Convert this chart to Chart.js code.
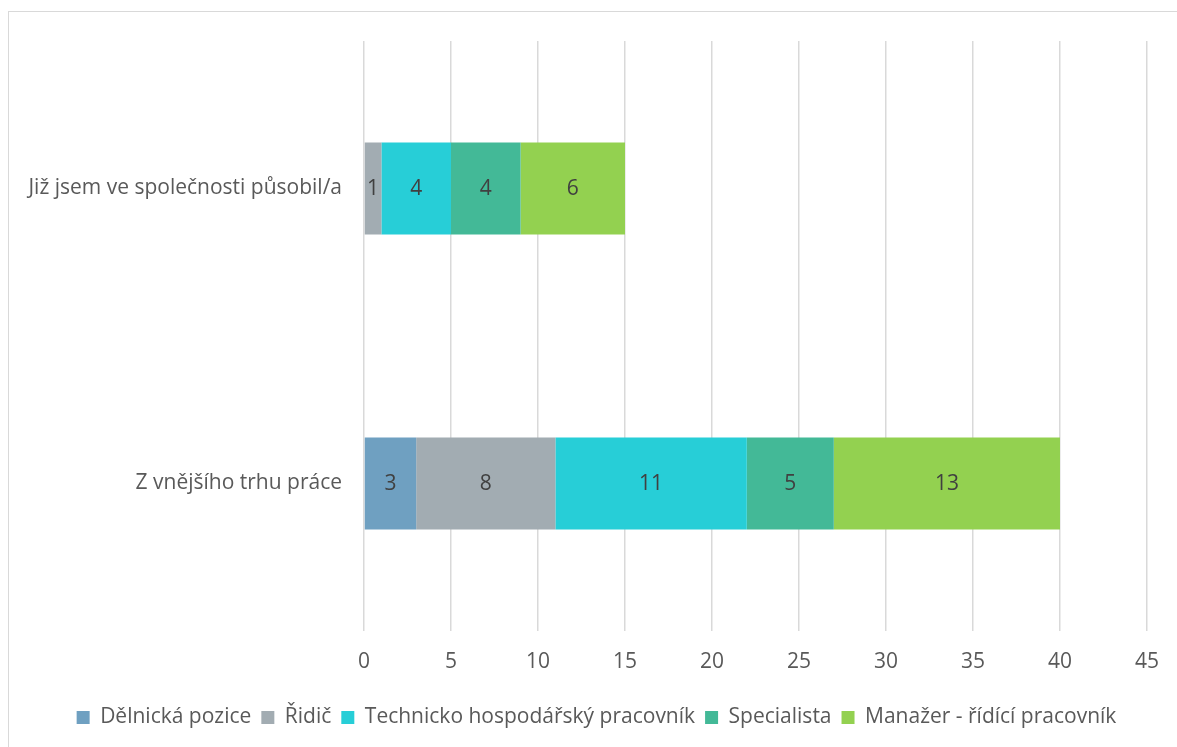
<!DOCTYPE html>
<html>
<head>
<meta charset="utf-8">
<script src="https://cdn.jsdelivr.net/npm/chart.js@4/dist/chart.umd.min.js"></script>
<style>
  html, body { margin: 0; padding: 0; background: #fff; overflow: hidden; }
  #frame { position: absolute; left: 8px; top: 11px; width: 1200px; height: 800px;
           border: 1.5px solid #d9d9d9; }
  #wrap { position: absolute; left: 0; top: 0; width: 1177px; height: 747px; }
</style>
</head>
<body>
<div id="frame"></div>
<div id="wrap"><canvas id="workChart"></canvas></div>
<script>
var categories = ["Již jsem ve společnosti působil/a", "Z vnějšího trhu práce"];
var seriesNames = ["Dělnická pozice", "Řidič", "Technicko hospodářský pracovník", "Specialista", "Manažer - řídící pracovník"];
var delnicka = [0, 3];
var ridic = [1, 8];
var thp = [4, 11];
var specialista = [4, 5];
var manazer = [6, 13];
var xTicks = [0, 5, 10, 15, 20, 25, 30, 35, 40, 45];

var colors = ["#6fa0c1", "#a2acb2", "#27ced7", "#43b997", "#93d150"];
var seriesValues = [delnicka, ridic, thp, specialista, manazer];

// draws the numbers in the middle of each segment
var valueLabels = {
    id: 'valueLabels',
    afterDatasetsDraw: function(chart) {
        var ctx = chart.ctx;
        ctx.save();
        ctx.font = '21px "Open Sans"';
        ctx.fillStyle = '#404040';
        ctx.textAlign = 'center';
        ctx.textBaseline = 'middle';
        chart.data.datasets.forEach(function(ds, i) {
            chart.getDatasetMeta(i).data.forEach(function(bar, j) {
                var v = ds.data[j];
                if (!v) return;
                var mid = (bar.x + bar.base) / 2;
                ctx.fillText(String(v), mid, bar.y + 1);
            });
        });
        ctx.restore();
    }
};

// legend sits a bit right of the canvas centre
var legendShift = {
    id: 'legendShift',
    afterLayout: function(chart) {
        chart.legend.left = 45;
    }
};

var ctx = document.getElementById('workChart');
var workChart = new Chart(ctx, {
    type: 'bar',
    plugins: [valueLabels, legendShift],
    data: {
        labels: categories,
        datasets: seriesNames.map(function(name, i) {
            return {
                label: name,
                data: seriesValues[i],
                backgroundColor: colors[i],
                borderWidth: 0,
                categoryPercentage: 0.5,
                barPercentage: 0.624
            };
        })
    },
    options: {
        indexAxis: 'y',
        responsive: true,
        maintainAspectRatio: false,
        animation: false,
        layout: {
            padding: { left: 0, right: 29, top: 41, bottom: 9 }
        },
        plugins: {
            tooltip: { enabled: false },
            legend: {
                position: 'bottom',
                labels: {
                    boxWidth: 13,
                    boxHeight: 13,
                    padding: 10,
                    color: '#595959',
                    font: { family: 'Open Sans', size: 21 }
                }
            }
        },
        scales: {
            x: {
                stacked: true,
                min: 0,
                max: 45,
                afterBuildTicks: function(scale) {
                    scale.ticks = xTicks.map(function(v) { return { value: v }; });
                },
                afterFit: function(scale) { scale.height = 66; },
                grid: { color: '#d9d9d9', lineWidth: 1.5, drawTicks: false },
                border: { display: false },
                ticks: {
                    padding: 18,
                    color: '#595959',
                    font: { family: 'Open Sans', size: 21 }
                }
            },
            y: {
                stacked: true,
                afterFit: function(scale) { scale.width = 364; },
                grid: { display: false, drawTicks: false },
                border: { display: false },
                ticks: {
                    padding: 22,
                    color: '#595959',
                    font: { family: 'Open Sans', size: 21 }
                }
            }
        }
    }
});
</script>
</body>
</html>
